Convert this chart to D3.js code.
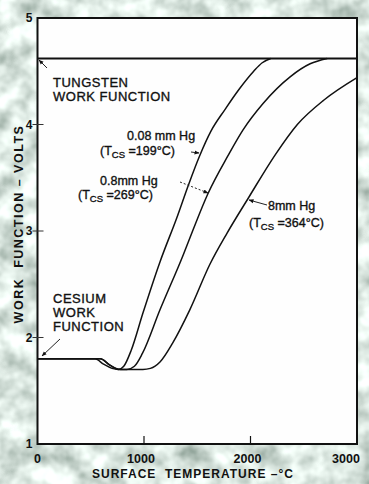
<!DOCTYPE html>
<html>
<head>
<meta charset="utf-8">
<script src="https://cdn.jsdelivr.net/npm/d3@7"></script>
<style>
  html, body { margin: 0; padding: 0; background: #bfcfc6; }
  svg { display: block; }
  text { font-family: "Liberation Sans", Arial, sans-serif; fill: #111; }
</style>
</head>
<body>
<svg id="chart" width="369" height="484"></svg>
<script>
// Work function of tungsten in cesium vapour vs. surface temperature
const xTicks = [0, 1000, 2000, 3000];
const yTicks = [1, 2, 3, 4, 5];

const tungstenWF = 4.62;   // volts
const cesiumWF = 1.80;     // volts

// 0.08 mm Hg  (Tcs = 199°C)
const tempLow = [0, 540, 620, 700, 760, 810, 880, 990, 1150, 1310, 1420, 1520, 1630, 1760, 1900, 2030, 2110, 2190];
const wfLow   = [1.80, 1.80, 1.75, 1.71, 1.70, 1.73, 1.88, 2.23, 2.71, 3.13, 3.44, 3.70, 3.94, 4.14, 4.34, 4.50, 4.58, 4.62];

// 0.8 mm Hg  (Tcs = 269°C)
const tempMid = [0, 590, 680, 760, 840, 910, 985, 1150, 1370, 1460, 1600, 1790, 1930, 2120, 2375, 2560, 2720];
const wfMid   = [1.80, 1.80, 1.74, 1.70, 1.70, 1.73, 1.85, 2.26, 2.78, 3.01, 3.35, 3.71, 3.95, 4.20, 4.45, 4.57, 4.62];

// 8 mm Hg  (Tcs = 364°C)
const tempHigh = [0, 590, 680, 780, 990, 1060, 1150, 1270, 1430, 1620, 1780, 1980, 2235, 2440, 2690, 3000];
const wfHigh   = [1.80, 1.80, 1.74, 1.70, 1.70, 1.71, 1.77, 1.95, 2.26, 2.69, 2.98, 3.31, 3.72, 4.00, 4.23, 4.44];

const svg = d3.select("#chart");
const W = 369, H = 484;
const plot = { left: 37.5, right: 357, top: 18, bottom: 444 };

// mottled paper backdrop
const defs = svg.append("defs");
const f = defs.append("filter").attr("id", "mottle")
  .attr("x", 0).attr("y", 0).attr("width", W).attr("height", H)
  .attr("filterUnits", "userSpaceOnUse");
f.append("feTurbulence").attr("type", "fractalNoise")
  .attr("baseFrequency", 0.045).attr("numOctaves", 3).attr("seed", 11).attr("result", "n");
f.append("feColorMatrix").attr("in", "n").attr("type", "matrix")
  .attr("values", "1.1 0 0 0 0.17  1.1 0 0 0 0.26  1.1 0 0 0 0.21  0 0 0 0 1");
svg.append("rect").attr("width", W).attr("height", H).attr("fill", "#bfcfc6").attr("filter", "url(#mottle)");

const x = d3.scaleLinear().domain([0, 3000]).range([plot.left, plot.right]);
const y = d3.scaleLinear().domain([1, 5]).range([plot.bottom, plot.top]);

// plot area
svg.append("rect")
  .attr("x", x(0)).attr("y", y(5))
  .attr("width", x(3000) - x(0)).attr("height", y(1) - y(5))
  .attr("fill", "#fefefe").attr("stroke", "#111").attr("stroke-width", 2);

// ticks
svg.append("g").selectAll("line").data(yTicks.filter(d => d > 1 && d < 5)).join("line")
  .attr("x1", x(0) - 5).attr("x2", x(0) + 6)
  .attr("y1", d => y(d)).attr("y2", d => y(d))
  .attr("stroke", "#333").attr("stroke-width", 1);
svg.append("g").selectAll("line").data(xTicks.filter(d => d > 0 && d < 3000)).join("line")
  .attr("x1", d => x(d)).attr("x2", d => x(d))
  .attr("y1", y(1)).attr("y2", y(1) - 8)
  .attr("stroke", "#111").attr("stroke-width", 1.2);

// tick labels
svg.append("g").selectAll("text").data(yTicks).join("text")
  .attr("x", x(0) - 5).attr("y", d => y(d) + 4)
  .attr("text-anchor", "end").attr("font-size", 12).attr("font-weight", "bold")
  .text(d => d);
svg.append("g").selectAll("text").data(xTicks).join("text")
  .attr("x", d => x(d)).attr("y", 463)
  .attr("dx", d => d === 3000 ? -11 : (d === 0 ? 0 : -3))
  .attr("text-anchor", "middle").attr("font-size", 12.5).attr("font-weight", "bold")
  .text(d => d);

// axis titles
svg.append("text").attr("x", 92).attr("y", 478)
  .attr("font-size", 12).attr("font-weight", "bold").attr("letter-spacing", 1)
  .attr("xml:space", "preserve")
  .text("SURFACE  TEMPERATURE \u2013\u00B0C");
svg.append("text")
  .attr("transform", "translate(23,224) rotate(-90)")
  .attr("text-anchor", "middle").attr("font-size", 12.5).attr("font-weight", "bold")
  .attr("letter-spacing", 1.5).attr("xml:space", "preserve")
  .text("WORK  FUNCTION \u2013 VOLTS");

// reference levels
svg.append("line")
  .attr("x1", x(0)).attr("x2", x(3000))
  .attr("y1", y(tungstenWF)).attr("y2", y(tungstenWF))
  .attr("stroke", "#111").attr("stroke-width", 2);

// curves
const line = d3.line().x(d => x(d[0])).y(d => y(d[1])).curve(d3.curveMonotoneX);
const series = [
  d3.zip(tempLow, wfLow),
  d3.zip(tempMid, wfMid),
  d3.zip(tempHigh, wfHigh)
];
svg.append("g").selectAll("path").data(series).join("path")
  .attr("d", line).attr("fill", "none")
  .attr("stroke", "#111").attr("stroke-width", 1.5).attr("stroke-linejoin", "round");

// annotations
const labelStyle = t => t.attr("stroke", "#111").attr("stroke-width", 0.35);
function block(lines, xPos, yPos, step) {
  lines.forEach((t, i) => {
    svg.append("text").attr("x", xPos).attr("y", yPos + i * step)
      .attr("font-size", 13).attr("letter-spacing", 0.5).call(labelStyle).text(t);
  });
}
block(["TUNGSTEN", "WORK FUNCTION"], 53, 87, 14);
block(["CESIUM", "WORK", "FUNCTION"], 53, 303, 14);

function tcs(xPos, yPos, val) {
  const t = svg.append("text").attr("x", xPos).attr("y", yPos).attr("font-size", 12.5)
    .attr("xml:space", "preserve").call(labelStyle);
  t.append("tspan").text("(T");
  t.append("tspan").attr("font-size", 9.5).attr("dy", 3).text("CS");
  t.append("tspan").attr("dy", -3).text(" =" + val + "\u00B0C)");
}
svg.append("text").attr("x", 127).attr("y", 140).attr("font-size", 12.5).call(labelStyle).text("0.08 mm Hg");
tcs(100, 155, 199);
svg.append("text").attr("x", 100).attr("y", 185).attr("font-size", 12.5).call(labelStyle).text("0.8mm Hg");
tcs(78, 199, 269);
svg.append("text").attr("x", 268).attr("y", 210).attr("font-size", 12.5).call(labelStyle).text("8mm Hg");
tcs(249, 227, 364);

// leaders and arrows
const arrowDefs = defs.append("marker").attr("id", "ah")
  .attr("viewBox", "0 0 10 10").attr("refX", 9).attr("refY", 5)
  .attr("markerWidth", 5).attr("markerHeight", 5).attr("orient", "auto");
arrowDefs.append("path").attr("d", "M0,1 L10,5 L0,9 Z").attr("fill", "#111");

const leaders = [
  { x1: 47, y1: 68, x2: 39, y2: 60, dash: null },
  { x1: 60, y1: 339, x2: 42, y2: 356, dash: null },
  { x1: 191, y1: 152, x2: 199, y2: 153, dash: null },
  { x1: 180, y1: 182, x2: 208, y2: 193, dash: "2,2" },
  { x1: 267, y1: 205, x2: 249, y2: 200, dash: null }
];
svg.append("g").selectAll("line").data(leaders).join("line")
  .attr("x1", d => d.x1).attr("y1", d => d.y1)
  .attr("x2", d => d.x2).attr("y2", d => d.y2)
  .attr("stroke", "#222").attr("stroke-width", 1)
  .attr("stroke-dasharray", d => d.dash)
  .attr("marker-end", "url(#ah)");
</script>
</body>
</html>
